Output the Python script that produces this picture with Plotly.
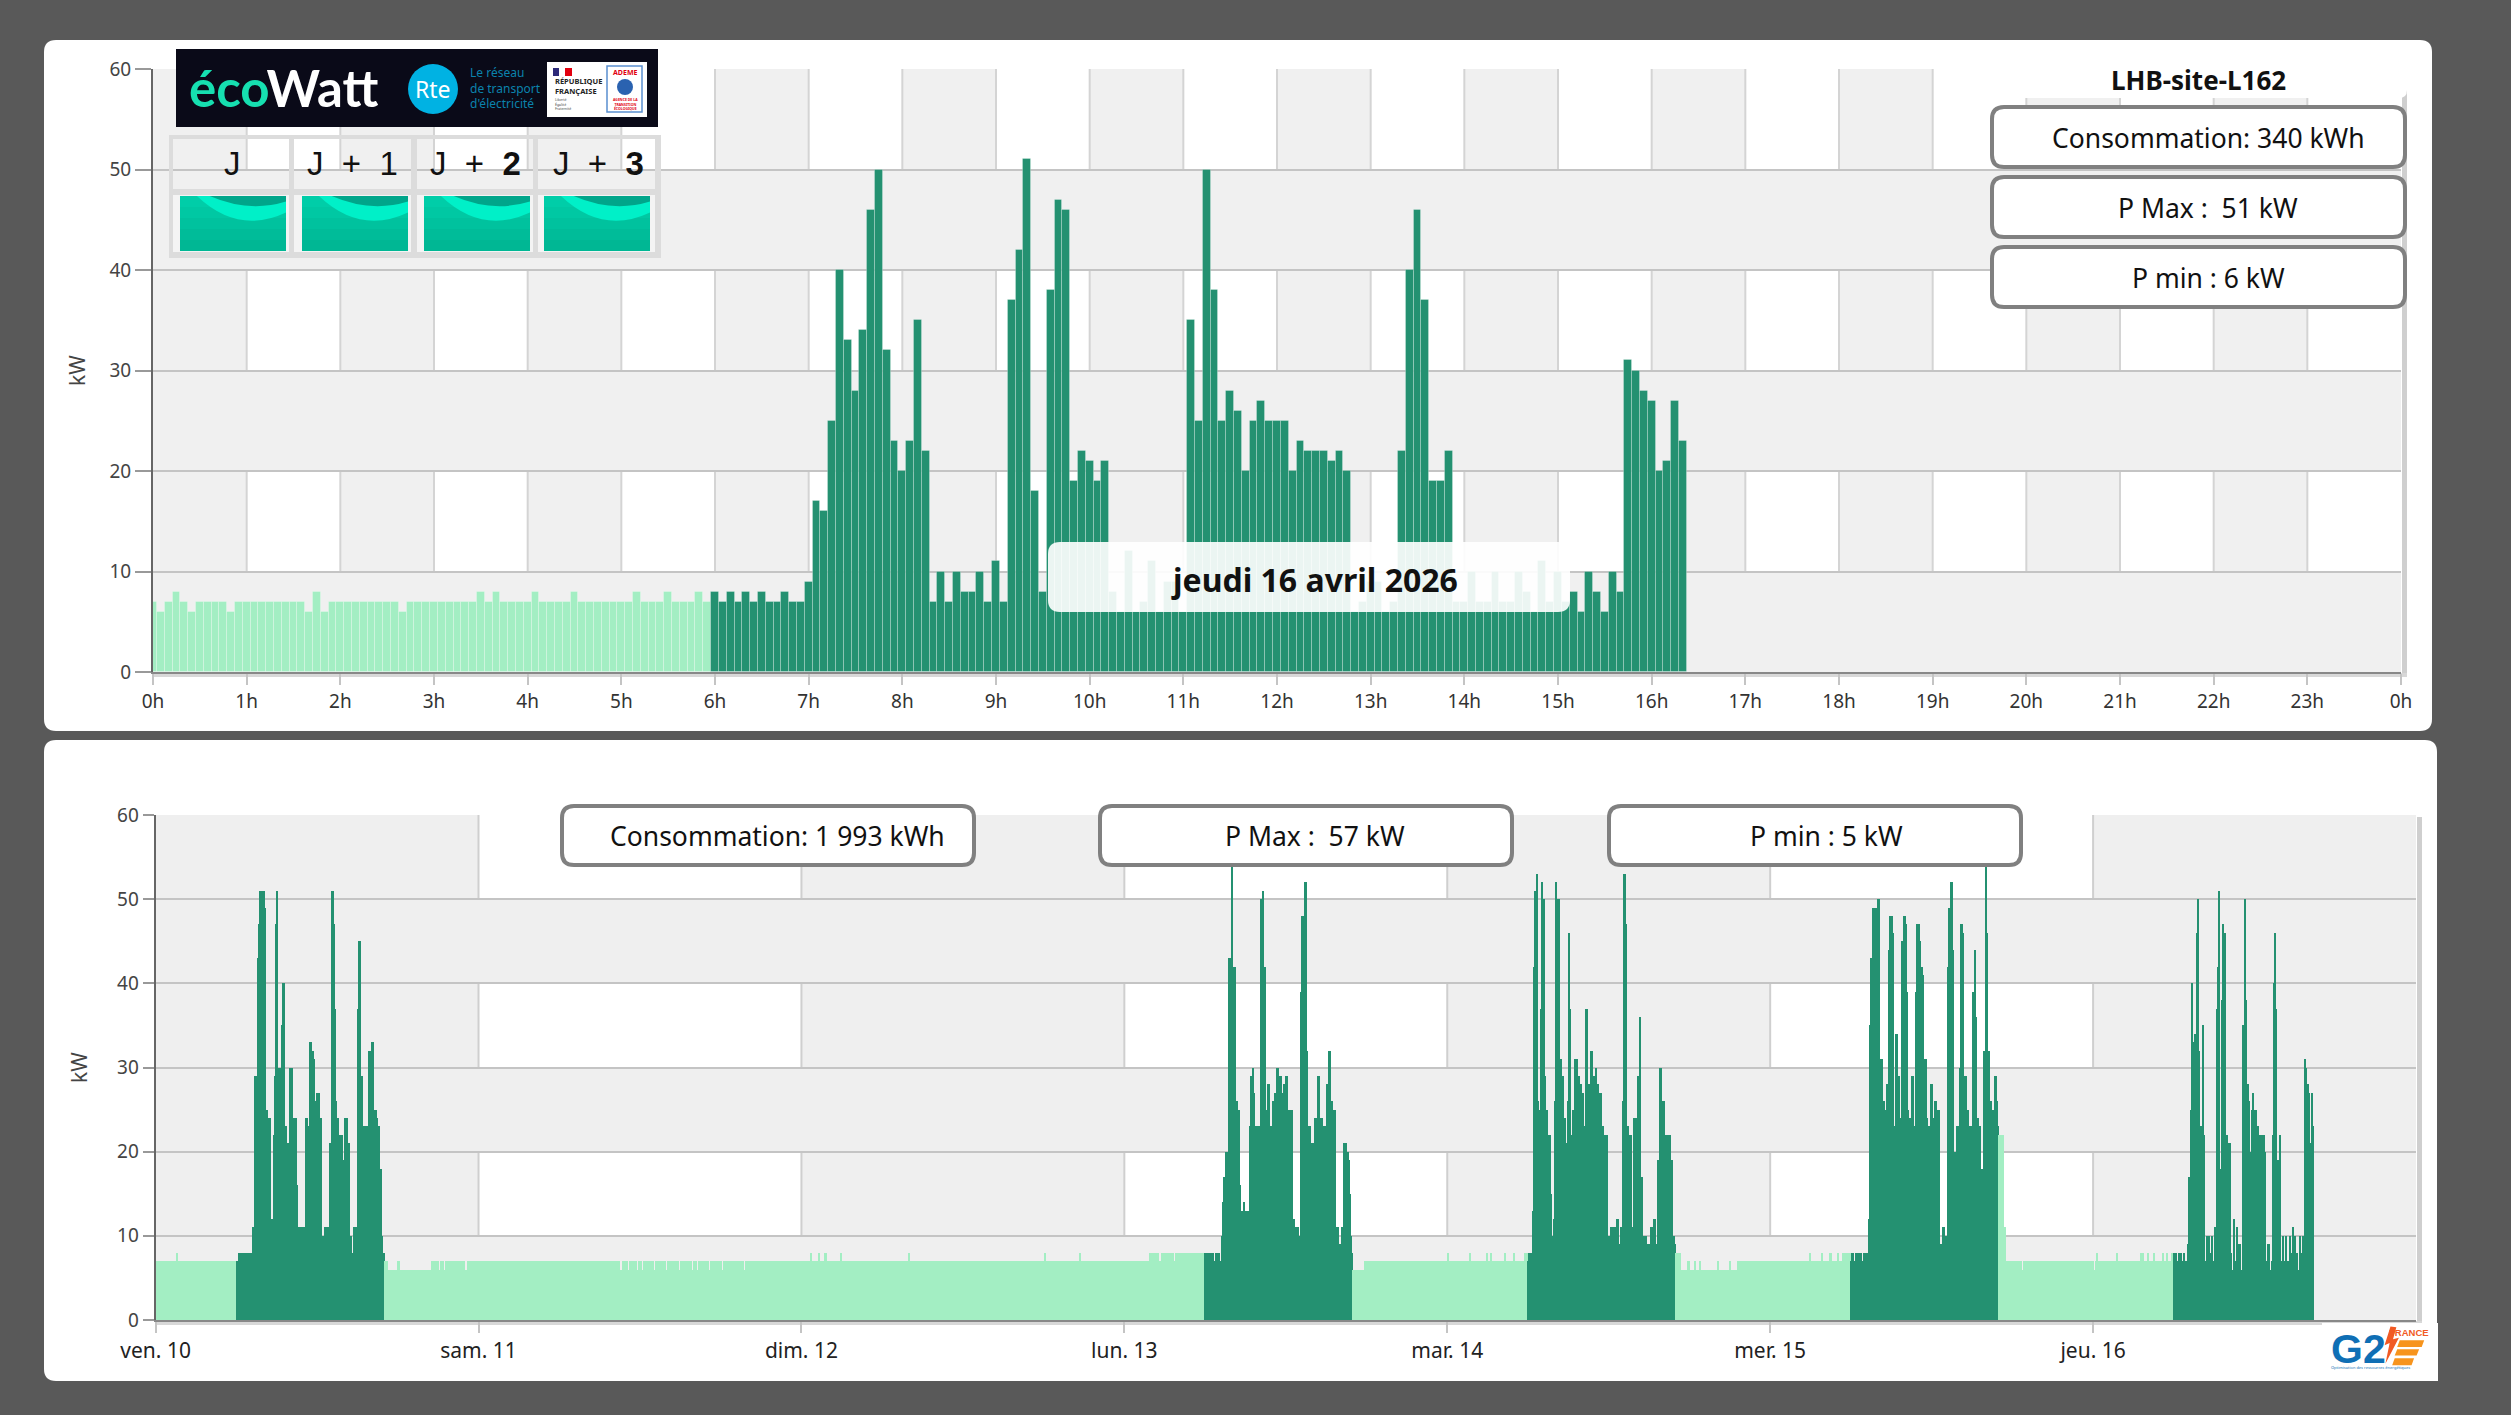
import plotly.graph_objects as go

W, H = 2511, 1415
SANS = "Noto Sans"

# ---------- DATA (kW, one bar every 5 minutes) ----------
TODAY_OFFPEAK = [7,6,7,8,7,6,7,7,7,7,6,7,7,7,7,7,7,7,7,7,6,8,6,7,7,7,7,7,7,7,7,7,6,7,7,7,
                 7,7,7,7,7,7,8,7,8,7,7,7,7,8,7,7,7,7,8,7,7,7,7,7,7,7,8,7,7,7,8,7,7,7,8,7]
TODAY_PEAK = [8,7,8,7,8,7,8,7,7,8,7,7,9,17,16,25,40,33,28,34,46,50,32,23,
              20,23,35,22,7,10,7,10,8,8,10,7,11,7,37,42,51,18,8,38,47,46,19,22,
              21,19,21,8,6,12,6,7,11,6,9,9,6,35,25,50,38,25,28,26,20,25,27,25,
              25,25,20,23,22,22,22,21,22,20,6,7,9,9,6,7,22,40,46,37,19,19,22,7,
              7,10,7,7,10,7,7,10,8,6,11,7,10,7,8,6,10,8,6,10,8,31,30,28,
              27,20,21,27,23]

FRI_DAWN = [(7,19),(8,1),(7,52)]
FRI_PEAK = [7,7,8,8,7,8,8,8,8,8,8,8,8,8,8,
            11,29,29,29,43,47,51,35,51,51,49,25,25,24,24,24,12,12,22,29,47,51,26,30,30,
            35,40,40,23,23,21,21,20,30,30,24,24,24,24,16,11,11,11,11,11,11,10,24,24,23,
            33,33,32,32,31,26,26,27,27,24,24,10,10,9,11,11,11,11,21,21,51,51,47,37,26,
            24,22,22,22,22,19,19,24,24,21,21,10,10,8,8,11,11,10,37,45,45,29,29,19,23,
            23,23,23,32,32,28,33,33,25,25,24,23,23,18,18,10,8]
FRI_DUSK = [(7,3),(6,9),(7,2),(6,28),(7,7),(6,1),(7,3),(6,2),(7,4),(6,1),(7,6),(6,1),(7,5),(6,2),(7,10)]
SAT_ALL = [(7,60),(6,1),(7,25),(6,1),(7,39),(6,3),(7,4),(6,2),(7,6),(6,2),(7,3),(6,1),(7,5),(6,1),(7,3),(6,2),
           (7,9),(6,2),(7,5),(6,1),(7,4),(6,1),(7,10),(6,2),(7,3),(6,1),(7,9),(6,2),(7,6),(6,1),(7,3),(6,2),
           (7,5),(6,1),(7,7),(6,1),(7,4),(6,1),(7,11),(6,1),(7,5),(6,1),(7,32)]
SUN_ALL = [(7,8),(8,1),(7,6),(8,1),(7,5),(8,2),(7,12),(8,1),(7,60),(8,1),(7,120),(8,1),(7,30),(8,1),(7,39)]
MON_DAWN = [(7,23),(8,2),(7,1),(8,3),(7,1),(8,1),(7,2),(8,3),(7,1),(8,4),(7,1),(8,2),(7,2),(8,3),(7,1),(8,5),
            (7,1),(8,3),(7,1),(8,2),(7,1),(8,9)]
MON_PEAK = [8,8,7,8,8,8,7,8,7,8,8,7,8,7,7,
            10,14,17,20,20,15,43,43,42,57,42,42,26,26,25,25,16,13,13,14,13,13,13,13,13,
            23,29,30,27,23,23,23,23,23,23,50,51,42,42,25,25,28,28,23,23,26,26,27,24,30,
            30,29,29,27,27,28,28,29,29,25,25,25,25,12,12,11,11,11,11,10,39,48,42,48,52,
            52,32,23,23,21,21,21,19,24,24,29,29,20,24,24,23,23,23,28,28,32,32,26,26,23,
            25,25,11,11,9,9,9,11,11,21,21,20,20,19,15,10,8]
MON_DUSK = [(6,10),(7,1),(6,1),(7,2),(6,1),(7,1),(6,1),(7,67)]
TUE_DAWN = [(8,1),(7,19),(8,1),(7,14),(8,1),(7,3),(8,1),(7,11),(8,1),(7,7),(8,1),(7,9),(8,3)]
TUE_PEAK = [7,8,8,8,13,42,51,51,53,26,25,37,52,50,50,
            29,25,25,22,22,15,10,10,12,26,52,50,50,31,31,29,29,24,24,21,26,46,37,22,22,
            25,25,31,31,29,29,28,28,27,27,23,37,37,28,28,27,32,32,29,29,30,28,28,22,27,
            27,23,23,22,22,22,10,10,10,11,11,11,11,10,12,12,9,9,11,26,53,53,47,23,23,
            22,22,22,11,24,24,24,24,29,29,36,17,10,10,10,10,9,9,9,11,11,9,12,12,9,
            9,19,30,30,26,26,26,22,22,22,22,22,19,19,10,10,9]
TUE_DUSK = [(8,4),(6,6),(7,2),(6,5),(7,1),(6,3),(7,1),(6,15),(7,1),(6,10),(7,1),(6,6),(7,29)]
WED_DAWN = [(7,35),(8,1),(7,10),(8,1),(7,6),(8,2),(7,5),(8,1),(7,4),(8,7)]
WED_PEAK = [7,8,8,7,8,8,7,8,8,8,7,8,8,8,8,
            8,12,35,43,49,49,49,42,49,50,50,31,31,26,26,25,25,28,28,44,48,48,46,23,23,
            34,34,29,29,24,45,45,48,48,47,39,25,24,24,29,29,23,23,39,47,47,45,42,42,41,
            26,31,31,24,23,23,28,28,24,24,26,26,25,25,9,9,9,11,11,10,10,42,49,44,52,
            52,44,20,20,23,23,23,30,47,47,46,29,29,25,25,23,23,23,20,39,44,36,24,24,23,
            23,18,18,32,32,55,46,32,32,26,26,25,25,29,29,26,23]
WED_DUSK = [(22,4),(11,2),(7,3),(6,1),(7,6),(6,1),(7,3),(6,2),(7,2),(6,1),(7,4),(6,1),(7,54)]

HOUR_LABELS = [f"{h}h" for h in range(24)] + ["0h"]
DAY_LABELS = ["ven. 10", "sam. 11", "dim. 12", "lun. 13", "mar. 14", "mer. 15", "jeu. 16"]
Y_TICKS = [0, 10, 20, 30, 40, 50, 60]

DARK, LIGHT = "#249171", "#a3eec3"
BAND = "#f0f0f0"


def runs(pairs):
    out = []
    for v, n in pairs:
        out += [v] * n
    return out


def X(p): return p / W
def Y(p): return 1 - p / H


def rr(x0, y0, x1, y1, r):
    return (f"M{X(x0+r)},{Y(y0)} L{X(x1-r)},{Y(y0)} Q{X(x1)},{Y(y0)} {X(x1)},{Y(y0+r)} "
            f"L{X(x1)},{Y(y1-r)} Q{X(x1)},{Y(y1)} {X(x1-r)},{Y(y1)} L{X(x0+r)},{Y(y1)} "
            f"Q{X(x0)},{Y(y1)} {X(x0)},{Y(y1-r)} L{X(x0)},{Y(y0+r)} Q{X(x0)},{Y(y0)} {X(x0+r)},{Y(y0)} Z")


shapes, notes = [], []


def rect(x0, y0, x1, y1, fill, layer="above", line=None, lw=0):
    shapes.append(dict(type="rect", xref="paper", yref="paper", x0=X(x0), x1=X(x1), y0=Y(y0), y1=Y(y1),
                       fillcolor=fill, line=dict(width=lw, color=line or fill), layer=layer))


def path(d, fill, layer="above", line=None, lw=0):
    shapes.append(dict(type="path", xref="paper", yref="paper", path=d, fillcolor=fill,
                       line=dict(width=lw, color=line or "rgba(0,0,0,0)"), layer=layer))


def poly(pts, fill):
    path("M" + " L".join(f"{X(a)},{Y(b)}" for a, b in pts) + " Z", fill)


def text(x, y, s, size, color="#111", family=SANS, anchor="center", bold=False):
    if bold:
        s = f"<b>{s}</b>"
    notes.append(dict(xref="paper", yref="paper", x=X(x), y=Y(y), text=s, showarrow=False, xanchor=anchor,
                      yanchor="middle", align="left" if anchor == "left" else "center",
                      font=dict(family=family, size=size, color=color)))


# panels
path(rr(44, 40, 2432, 731, 12), "white", layer="below")
path(rr(44, 740, 2437, 1381, 12), "white", layer="below")

# plot shadows
rect(2402, 71, 2407, 674, "#cfcfcf", layer="below")
rect(153, 673, 2407, 677, "#d8d8d8", layer="below")
rect(2417, 817, 2422, 1323, "#cfcfcf", layer="below")
rect(156, 1321, 2422, 1325, "#d8d8d8", layer="below")


def bands(xaxis, yaxis, step, xmax, fill, vline):
    # solid rows hide the vertical grid; chequered rows show it
    for lo in (0, 20, 40):
        shapes.append(dict(type="rect", xref=xaxis, yref=yaxis, x0=0, x1=xmax, y0=lo, y1=lo + 10,
                           fillcolor=fill, line_width=0, layer="below"))
    for lo in (10, 30, 50):
        for s in range(0, xmax, 2 * step):
            shapes.append(dict(type="rect", xref=xaxis, yref=yaxis, x0=s, x1=s + step, y0=lo, y1=lo + 10,
                               fillcolor=fill, line_width=0, layer="below"))
        for s in range(step, xmax, step):
            shapes.append(dict(type="line", xref=xaxis, yref=yaxis, x0=s, x1=s, y0=lo, y1=lo + 10,
                               line=dict(color=vline, width=2), layer="below"))


bands("x", "y", 1, 24, BAND, "#d4d4d4")
bands("x2", "y2", 24, 168, "#efefef", "#cfcfcf")

fig = go.Figure()
DT = 5 / 60

# ----- top chart
fig.add_bar(x=[i * DT for i in range(len(TODAY_OFFPEAK))], y=TODAY_OFFPEAK, width=DT, name="HC",
            marker=dict(color=LIGHT, line=dict(color="rgba(255,255,255,0.25)", width=1)),
            xaxis="x", yaxis="y", showlegend=False)
fig.add_bar(x=[(72 + i) * DT for i in range(len(TODAY_PEAK))], y=TODAY_PEAK, width=DT, name="HP",
            marker=dict(color=DARK, line=dict(color="rgba(255,255,255,0.25)", width=1)),
            xaxis="x", yaxis="y", showlegend=False)

# ----- week chart
week = [(LIGHT, runs(FRI_DAWN), 72), (DARK, FRI_PEAK, 132), (LIGHT, runs(FRI_DUSK), 84),
        (LIGHT, runs(SAT_ALL), 288), (LIGHT, runs(SUN_ALL), 288),
        (LIGHT, runs(MON_DAWN), 72), (DARK, MON_PEAK, 132), (LIGHT, runs(MON_DUSK), 84),
        (LIGHT, runs(TUE_DAWN), 72), (DARK, TUE_PEAK, 132), (LIGHT, runs(TUE_DUSK), 84),
        (LIGHT, runs(WED_DAWN), 72), (DARK, WED_PEAK, 132), (LIGHT, runs(WED_DUSK), 84),
        (LIGHT, TODAY_OFFPEAK, 72), (DARK, TODAY_PEAK, 125)]
pos = 0
for color, vals, n in week:
    assert len(vals) == n, (color, len(vals), n)
    fig.add_bar(x=[(pos + i) * DT for i in range(n)], y=vals, width=DT, marker=dict(color=color, line_width=0),
                xaxis="x2", yaxis="y2", showlegend=False)
    pos += n

axis_font = dict(family=SANS, size=19, color="#333")
common_y = dict(range=[0, 60], tickvals=Y_TICKS, showgrid=True, gridcolor="#c4c4c4", gridwidth=1.5, zeroline=False,
                showline=True, linecolor="#666", linewidth=2, ticks="outside", tickcolor="#999", tickwidth=1.5,
                tickfont=dict(family=SANS, size=19, color="#444"), automargin=False)
title_font = dict(family=SANS, size=21, color="#444")

fig.update_layout(
    width=W, height=H, margin=dict(l=0, r=0, t=0, b=0, autoexpand=False), autosize=False,
    paper_bgcolor="#595959", plot_bgcolor="rgba(0,0,0,0)", barmode="overlay", bargap=0, showlegend=False,
    xaxis=dict(domain=[X(153), X(2401)], range=[0, 24], anchor="y", tickvals=list(range(25)), ticktext=HOUR_LABELS,
               showgrid=False, zeroline=False, showline=True, linecolor="#888",
               linewidth=2, ticks="outside", ticklen=11, tickcolor="#c4c4c4", tickwidth=2, tickfont=axis_font,
               automargin=False),
    yaxis=dict(domain=[Y(672), Y(69)], anchor="x", ticklen=16, title=dict(text="kW", font=title_font, standoff=18),
               **common_y),
    xaxis2=dict(domain=[X(155.6), X(2416)], range=[0, 168], anchor="y2", tickvals=[24 * d for d in range(7)],
                ticktext=DAY_LABELS, showgrid=False, zeroline=False, showline=True,
                linecolor="#888", linewidth=2, ticks="outside", ticklen=11, tickcolor="#c4c4c4", tickwidth=2,
                tickfont=dict(family=SANS, size=21, color="#222"), automargin=False),
    yaxis2=dict(domain=[Y(1320), Y(815)], anchor="x2", ticklen=11, title=dict(text="kW", font=title_font, standoff=24),
                **common_y),
)

# ----- day label box over top chart
path(rr(1048, 542, 1570, 612, 12), "rgba(255,255,255,0.91)")
text(1314, 579, "jeudi 16 avril 2026", 32, bold=True)

# ----- site block
path(rr(1990, 40, 2407, 98, 8), "white")
text(2198, 80, "LHB-site-L162", 26, bold=True)
for i, t in enumerate(["Consommation: 340 kWh", "P Max :\u00a0\u00a051 kW", "P min : 6 kW"]):
    y0 = 107 + i * 70
    path(rr(1992, y0, 2405, y0 + 60, 12), "white", line="#808080", lw=4)
    text(2208, y0 + 31, t, 26.5)

# ----- week boxes
for x0, t, cx in [(562, "Consommation: 1 993 kWh", 777), (1100, "P Max :\u00a0\u00a057 kW", 1315), (1609, "P min : 5 kW", 1826)]:
    path(rr(x0, 806, x0 + 412, 865, 12), "white", line="#808080", lw=4)
    text(cx, 836, t, 26.5)

# ----- ecowatt banner
rect(176, 49, 658, 127, "#0a0a18")
text(187, 88, '<span style="color:#16dfb0">éco</span><span style="color:#ffffff">Watt</span>', 51, family="Lato",
     anchor="left", bold=True)
shapes.append(dict(type="circle", xref="paper", yref="paper", x0=X(408), x1=X(458), y0=Y(114), y1=Y(64),
                   fillcolor="#00b2e3", line_width=0, layer="above"))
text(433, 89, "Rte", 23, color="white")
text(468, 88, "Le réseau<br>de transport<br>d'électricité", 12, color="#0b83ad", anchor="left")
rect(547, 62, 647, 117, "white")
rect(553, 68, 559, 76, "#2d2a7a")
rect(559, 68, 565, 76, "white")
rect(565, 68, 572, 76, "#e1000f")
text(553, 86, "RÉPUBLIQUE<br>FRANÇAISE", 7.5, color="#222", anchor="left", bold=True)
text(553, 104, "Liberté<br>Égalité<br>Fraternité", 3.5, color="#444", anchor="left")
rect(607, 66, 642, 112, "white", line="#5a8fd0", lw=1.5)
text(625, 72, "ADEME", 7, color="#e1000f", bold=True)
shapes.append(dict(type="circle", xref="paper", yref="paper", x0=X(617), x1=X(633), y0=Y(95), y1=Y(79),
                   fillcolor="#2a62b0", line_width=0, layer="above"))
text(625, 104, "AGENCE DE LA<br>TRANSITION<br>ÉCOLOGIQUE", 3.5, color="#e1000f", bold=True)

# ----- J / J+1 / J+2 / J+3 table
GRID = "#dcdcdc"
for a, b, c, d in [(169, 135, 661, 139), (169, 189, 661, 195), (169, 252, 661, 258), (169, 135, 173, 258),
                   (289, 135, 294, 258), (411, 135, 417, 258), (533, 135, 538, 258), (655, 135, 661, 258)]:
    rect(a, b, c, d, GRID)
cells = [(173, 289, 180, 286, 232, "J"), (294, 411, 302, 408, 352, "J  +  1"),
         (417, 533, 424, 530, 475, "J  +  <b>2</b>"), (538, 655, 544, 650, 598, "J  +  <b>3</b>")]
strips = ["#00cda8", "#00c8a3", "#00c29e", "#00bc99", "#00b794"]
for a, b, gx0, gx1, cx, lab in cells:
    rect(a, 195, b, 252, "#f4f4f4")
    y0, y1 = 196, 251
    h = (y1 - y0) / len(strips)
    for i, col in enumerate(strips):
        rect(gx0, y0 + i * h, gx1, y0 + (i + 1) * h, col)
    w = gx1 - gx0
    hh = y1 - y0
    path(f"M{X(gx0+0.16*w)},{Y(y0)} Q{X(gx0+0.55*w)},{Y(y0+0.71*hh)} {X(gx1)},{Y(y0+0.30*hh)} L{X(gx1)},{Y(y0)} Z", "#00f0c8")
    path(f"M{X(gx0+0.28*w)},{Y(y0)} Q{X(gx0+0.65*w)},{Y(y0+0.31*hh)} {X(gx1)},{Y(y0+0.10*hh)} L{X(gx1)},{Y(y0)} Z", "#00a58a")
    text(cx, 163, lab, 33, color="#111", family="Liberation Sans")

# ----- G2E logo


def zx(v): return 1850 + v / 2.372
def zy(v): return 830 + v / 2.675


rect(2322, 1323, 2438, 1381, "white")
text(2358, 1349, "G2", 41, color="#0f6fb5", family="Liberation Sans", bold=True)
poly([(zx(1282), zy(1328)), (zx(1268), zy(1378)), (zx(1280), zy(1372)), (zx(1270), zy(1428)), (zx(1302), zy(1358)),
      (zx(1288), zy(1362)), (zx(1296), zy(1330))], "#f15a24")
for x0, x1, y0, y1 in [(1304, 1362, 1365, 1383), (1298, 1350, 1389, 1406), (1292, 1338, 1413, 1432)]:
    poly([(zx(x0), zy(y0)), (zx(x1), zy(y0)), (zx(x1 - 6), zy(y1)), (zx(x0 - 6), zy(y1))], "#f7941d")
text(zx(1325), zy(1345), "FRANCE", 9.5, color="#f15a24", family="Liberation Sans", bold=True)
text(zx(1235), zy(1439), "Optimisation des ressources énergétiques", 4, color="#0f6fb5")

fig.update_layout(shapes=shapes, annotations=notes)
fig.write_html("out.html", config=dict(displayModeBar=False),
               post_script="document.body.style.margin='0';document.body.style.overflow='hidden';")
